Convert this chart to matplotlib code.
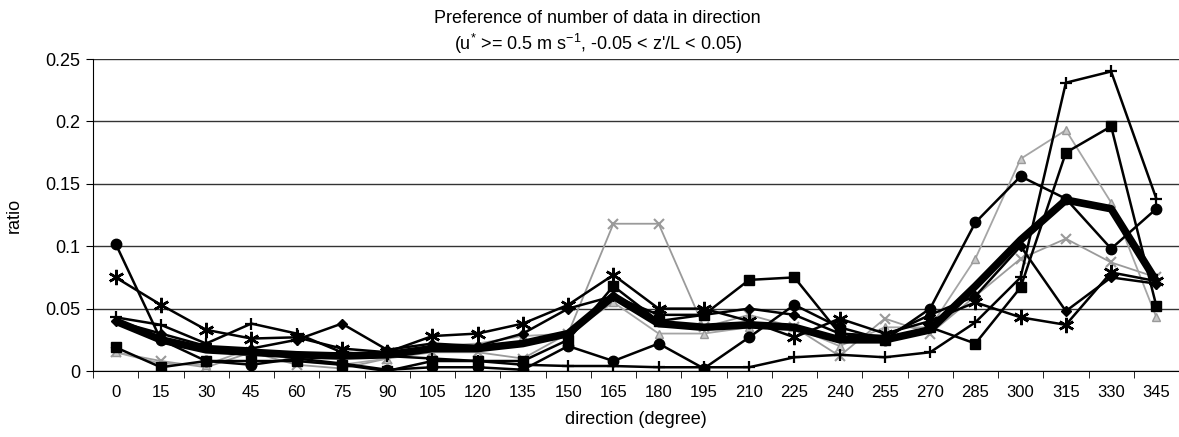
import numpy as np
import matplotlib
matplotlib.use("Agg")
import matplotlib.pyplot as plt
from matplotlib.ticker import FixedLocator

plt.rcParams['font.family'] = ['Liberation Sans', 'DejaVu Sans']
plt.rcParams['mathtext.fontset'] = 'custom'
plt.rcParams['mathtext.rm'] = 'Liberation Sans'
plt.rcParams['mathtext.default'] = 'regular'

directions = list(range(0, 360, 15))

circle = [0.102, 0.025, 0.008, 0.005, 0.010, 0.006, 0.001, 0.003, 0.003, 0.001, 0.020, 0.008,
          0.022, 0.002, 0.027, 0.053, 0.035, 0.025, 0.050, 0.119, 0.156, 0.138, 0.098, 0.130]
square = [0.019, 0.003, 0.008, 0.008, 0.008, 0.005, 0.000, 0.008, 0.008, 0.008, 0.025, 0.068,
          0.040, 0.045, 0.073, 0.075, 0.030, 0.025, 0.035, 0.022, 0.067, 0.175, 0.196, 0.052]
star = [0.075, 0.053, 0.033, 0.026, 0.027, 0.018, 0.015, 0.028, 0.030, 0.038, 0.053, 0.077,
        0.050, 0.050, 0.040, 0.027, 0.042, 0.030, 0.040, 0.055, 0.043, 0.037, 0.079, 0.072]
plus = [0.043, 0.037, 0.022, 0.038, 0.030, 0.015, 0.012, 0.010, 0.008, 0.005, 0.004, 0.004,
        0.003, 0.003, 0.003, 0.011, 0.013, 0.011, 0.015, 0.039, 0.075, 0.231, 0.240, 0.138]
diamond = [0.040, 0.030, 0.020, 0.018, 0.025, 0.038, 0.017, 0.022, 0.020, 0.030, 0.050, 0.060,
           0.045, 0.045, 0.050, 0.045, 0.030, 0.028, 0.045, 0.060, 0.100, 0.048, 0.075, 0.070]
cross_gray = [0.015, 0.008, 0.003, 0.015, 0.005, 0.002, 0.010, 0.015, 0.015, 0.010, 0.030, 0.118,
              0.118, 0.035, 0.045, 0.035, 0.012, 0.042, 0.030, 0.060, 0.090, 0.106, 0.087, 0.075]
triangle_gray = [0.015, 0.006, 0.005, 0.018, 0.008, 0.005, 0.010, 0.020, 0.022, 0.028, 0.030, 0.055,
                 0.030, 0.030, 0.035, 0.035, 0.020, 0.035, 0.035, 0.090, 0.170, 0.193, 0.135, 0.043]
average = [0.040, 0.025, 0.017, 0.015, 0.013, 0.012, 0.013, 0.018, 0.018, 0.022, 0.030, 0.060,
           0.038, 0.035, 0.037, 0.035, 0.025, 0.025, 0.033, 0.068, 0.105, 0.137, 0.130, 0.072]

y_ticks = [0, 0.05, 0.1, 0.15, 0.2, 0.25]
y_tick_labels = ['0', '0.05', '0.1', '0.15', '0.2', '0.25']

x = np.arange(len(directions))

fig = plt.figure(figsize=(11.79, 4.37), dpi=100)
ax = fig.add_axes([93 / 1179, 1 - 371 / 437, 1 - 93 / 1179, (371 - 59) / 437])

# gray series first so the black ones sit on top
ax.plot(x, cross_gray, color='#9a9a9a', lw=1.3, marker='x', ms=7, mew=1.5)
ax.plot(x, triangle_gray, color='#a5a5a5', lw=1.3, marker='^', ms=6, mfc='#c8c8c8', mec='#9a9a9a')
ax.plot(x, diamond, color='black', lw=1.8, marker='D', ms=5)
ax.plot(x, circle, color='black', lw=1.8, marker='o', ms=7.5)
ax.plot(x, square, color='black', lw=1.8, marker='s', ms=6.5)
ax.plot(x, star, color='black', lw=1.8, marker=(6, 2, 0), ms=11, mew=1.8)
ax.plot(x, plus, color='black', lw=1.8, marker='+', ms=9, mew=1.6)
ax.plot(x, average, color='black', lw=5.5, solid_capstyle='butt')

ax.set_xlim(-0.5, len(directions) - 0.5)
ax.set_ylim(0, 0.25)
ax.set_yticks(y_ticks)
ax.set_yticklabels(y_tick_labels)
ax.grid(axis='y', color='#333333', lw=1.0)
ax.set_axisbelow(True)

ax.set_xticks(x)
ax.set_xticklabels([str(d) for d in directions], fontsize=12)
ax.xaxis.set_minor_locator(FixedLocator(np.arange(-0.5, len(directions), 1)))
ax.tick_params(axis='x', which='major', length=0, pad=10)
ax.tick_params(axis='x', which='minor', length=5, direction='out', color='black')
ax.tick_params(axis='y', length=5, direction='out', labelsize=13, pad=4)

for side in ('top', 'right'):
    ax.spines[side].set_visible(False)
ax.spines['left'].set_color('black')
ax.spines['bottom'].set_color('black')

ax.set_xlabel('direction (degree)', fontsize=13, labelpad=8)
ax.set_ylabel('ratio', fontsize=13, labelpad=16)

fig.text(0.507, 0.958, 'Preference of number of data in direction', ha='center', va='center', fontsize=13)
fig.text(0.507, 0.900, r"(u$^{*}$ >= 0.5 m s$^{-1}$, -0.05 < z'/L < 0.05)", ha='center', va='center', fontsize=13)

fig.savefig('out.png', dpi=100)
